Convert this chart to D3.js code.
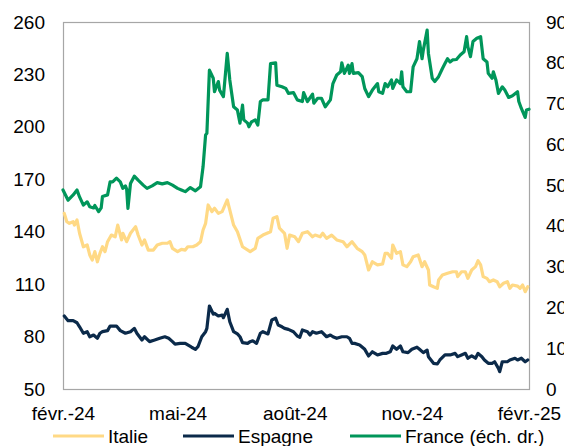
<!DOCTYPE html>
<html lang="fr">
<head>
<meta charset="utf-8">
<script src="https://cdn.jsdelivr.net/npm/d3@7"></script>
<style>
  html, body { margin: 0; padding: 0; background: #ffffff; }
  svg { display: block; font-family: "Liberation Sans", Arial, Helvetica, sans-serif; }
</style>
</head>
<body>
<svg id="chart" width="564" height="446"></svg>
<script>
// Period covered: 1 Feb 2024 to 1 Feb 2025; series points are [days since 1 Feb 2024, value]
const periodStart = "2024-02-01";
const periodEnd = "2025-02-01";

const xTickDates = ["2024-02-01", "2024-05-01", "2024-08-01", "2024-11-01", "2025-02-01"];
const xTickLabels = ["févr.-24", "mai-24", "août-24", "nov.-24", "févr.-25"];
const leftTicks = [50, 80, 110, 140, 170, 200, 230, 260];
const rightTicks = [0, 10, 20, 30, 40, 50, 60, 70, 80, 90];

const seriesNames = ["Italie", "Espagne", "France (éch. dr.)"];

// Italy, left axis
const italie = [
  [1,150.5],[3,145.7],[5,144.8],[8,145.7],[9,143.8],[11,146.7],[13,139.1],[16,131.4],[19,132.4],[21,126.7],
  [23,123.8],[25,128.6],[27,122.8],[29,127.6],[31,131.4],[33,128.6],[35,134.3],[38,138.1],[41,137.1],[43,143.8],
  [46,135.3],[47,139.1],[50,134.3],[53,139.1],[57,142.9],[59,138.1],[62,132.4],[64,135.3],[67,129.5],[71,129.5],
  [74,132.4],[78,133.4],[82,133.4],[84,134.3],[86,130.5],[90,128.6],[93,129.9],[96,129.5],[98,131.4],[102,131.4],
  [105,132.4],[108,134.3],[110,141.0],[112,144.8],[114,155.3],[117,151.5],[119,153.4],[122,150.5],[125,151.5],[129,158.2],
  [134,143.8],[137,140.0],[141,131.4],[147,128.6],[151,130.5],[153,136.2],[157,138.1],[163,140.0],[165,147.7],[168,148.6],
  [170,142.0],[174,139.1],[176,130.5],[178,138.1],[182,137.1],[185,134.3],[188,139.1],[192,140.0],[196,137.1],[198,138.1],
  [202,137.1],[204,139.1],[207,136.2],[211,138.1],[215,135.3],[220,134.3],[223,131.4],[227,134.3],[231,130.5],[235,128.6],
  [237,126.7],[240,118.1],[243,122.8],[247,121.0],[251,121.5],[253,127.6],[255,127.6],[258,124.8],[259,132.4],[262,127.6],
  [265,128.6],[267,121.0],[270,120.0],[273,122.8],[275,125.7],[279,126.7],[282,120.0],[284,122.8],[287,118.1],[288,109.5],
  [291,108.5],[294,107.6],[295,112.4],[298,115.2],[302,116.2],[306,117.1],[309,117.1],[310,114.3],[313,117.1],[316,117.1],
  [318,113.3],[321,118.1],[324,120.0],[326,123.4],[328,121.0],[330,114.3],[333,113.3],[335,111.4],[338,112.4],[341,111.4],
  [343,108.5],[346,110.5],[349,111.4],[351,107.6],[353,109.5],[357,108.9],[359,107.6],[361,109.5],[363,105.7],[365,108.5]
];

// Spain, left axis
const espagne = [
  [1,91.8],[4,89.1],[8,89.1],[11,87.9],[13,85.6],[16,81.9],[19,82.8],[21,79.9],[24,80.9],[27,79.0],
  [29,81.9],[31,82.8],[35,83.4],[37,86.0],[39,86.0],[42,86.0],[45,83.4],[49,81.9],[53,82.8],[56,84.7],
  [58,81.9],[62,78.0],[64,79.9],[68,77.1],[72,78.0],[76,79.0],[80,79.9],[83,79.0],[86,77.1],[88,75.7],
  [92,76.1],[96,76.1],[98,75.2],[101,73.9],[104,72.7],[106,74.2],[109,79.9],[112,82.8],[113,84.7],[115,97.5],
  [118,92.9],[119,93.3],[122,91.8],[125,92.3],[126,90.8],[129,95.6],[131,88.5],[134,82.8],[137,81.5],[139,79.9],
  [141,76.5],[145,76.1],[147,77.1],[149,77.6],[152,76.1],[155,81.9],[157,82.8],[161,81.5],[164,89.5],[167,90.5],
  [169,86.6],[172,85.6],[174,84.7],[177,84.1],[181,82.8],[184,80.3],[186,79.6],[188,83.8],[192,82.8],[194,80.9],
  [196,82.8],[199,81.9],[203,82.8],[207,79.9],[210,80.9],[212,79.9],[215,79.0],[219,79.9],[223,79.9],[225,79.0],
  [227,76.1],[229,76.1],[233,75.2],[237,72.7],[240,68.9],[243,71.3],[247,69.5],[251,70.4],[254,70.4],[257,71.3],
  [259,74.6],[262,72.7],[265,74.6],[267,71.3],[271,70.8],[274,72.7],[278,73.9],[280,72.7],[283,70.8],[286,72.2],
  [287,68.5],[291,64.7],[294,64.3],[296,66.6],[300,69.5],[304,69.5],[308,70.4],[310,68.5],[313,69.5],[316,70.4],
  [318,67.6],[321,68.9],[324,67.6],[326,70.4],[329,68.5],[331,66.6],[334,64.7],[337,64.7],[339,65.6],[342,61.8],
  [343,59.9],[345,65.6],[349,65.6],[351,66.6],[355,67.6],[357,66.6],[360,67.6],[363,65.6],[365,66.6]
];

// France, right axis
const france = [
  [0,48.8],[4,46.3],[8,47.6],[11,48.8],[13,47.1],[16,45.1],[19,45.9],[21,44.7],[24,44.4],[25,45.0],
  [28,43.5],[30,44.4],[31,47.2],[35,47.6],[37,50.8],[39,50.8],[42,51.7],[45,50.8],[47,49.2],[49,49.8],
  [50,49.0],[51,44.3],[53,50.4],[56,52.2],[59,51.2],[63,50.0],[66,49.2],[70,49.8],[74,50.6],[78,50.3],
  [82,50.6],[86,50.0],[90,49.2],[93,48.8],[96,48.4],[100,49.4],[104,48.6],[108,49.6],[110,54.5],[112,62.3],
  [113,62.7],[115,78.2],[118,76.2],[119,72.9],[122,75.4],[123,73.3],[126,71.7],[129,82.3],[131,75.8],[134,69.2],
  [137,68.4],[139,65.2],[141,69.6],[142,66.0],[145,65.2],[146,64.3],[148,65.5],[151,66.0],[153,64.7],[155,70.5],
  [157,70.9],[161,70.9],[163,79.8],[167,80.0],[168,74.5],[172,74.1],[175,73.7],[177,72.5],[181,72.7],[184,70.9],
  [188,70.5],[189,72.7],[192,70.5],[196,72.3],[197,70.1],[200,71.3],[203,71.3],[206,69.2],[210,70.9],[212,74.9],
  [215,77.0],[218,77.8],[219,80.0],[221,77.4],[224,79.4],[225,77.4],[227,79.8],[228,77.4],[232,77.6],[235,76.6],
  [237,73.7],[240,71.7],[243,73.3],[247,74.9],[248,72.9],[251,72.5],[253,74.9],[255,74.1],[258,75.8],[259,73.7],
  [262,75.8],[265,74.9],[266,77.8],[267,74.1],[270,72.9],[273,72.9],[275,79.0],[278,81.0],[280,85.2],[282,81.0],
  [283,83.1],[286,88.0],[287,82.3],[290,76.2],[292,75.4],[295,76.6],[298,78.6],[300,79.8],[302,81.0],[304,80.2],
  [306,80.7],[309,80.8],[312,81.9],[315,82.7],[317,86.4],[318,83.9],[320,81.5],[322,85.2],[325,86.0],[328,86.4],
  [330,81.0],[333,80.2],[334,77.4],[337,76.2],[338,77.8],[340,75.8],[342,72.5],[345,74.1],[347,73.3],[350,71.5],
  [353,71.9],[357,72.9],[358,70.5],[360,68.8],[363,66.6],[364,68.4],[366,68.6]
];

const colors = { italie: "#ffd985", espagne: "#0b2a4a", france: "#00965a" };

const width = 564, height = 446;
const margin = { top: 22, right: 35, bottom: 57, left: 63 };
const innerW = width - margin.left - margin.right;
const innerH = height - margin.top - margin.bottom;
const fontSize = 19;

const parse = d3.timeParse("%Y-%m-%d");
const t0 = parse(periodStart);
const dayToDate = d => d3.timeDay.offset(t0, d);

const x = d3.scaleTime()
  .domain([t0, parse(periodEnd)])
  .range([margin.left, margin.left + innerW]);
const yLeft = d3.scaleLinear()
  .domain([d3.min(leftTicks), d3.max(leftTicks)])
  .range([margin.top + innerH, margin.top]);
const yRight = d3.scaleLinear()
  .domain([d3.min(rightTicks), d3.max(rightTicks)])
  .range([margin.top + innerH, margin.top]);

const svg = d3.select("#chart");

// Plot frame
svg.append("rect")
  .attr("x", margin.left + 0.5)
  .attr("y", margin.top + 0.5)
  .attr("width", innerW)
  .attr("height", innerH)
  .attr("fill", "none")
  .attr("stroke", "#a6a6a6")
  .attr("stroke-width", 1.2);

// Axes
const styleAxis = g => {
  g.select(".domain").remove();
  g.selectAll("line").remove();
  g.selectAll("text")
    .attr("font-size", fontSize)
    .attr("font-family", "'Liberation Sans', Arial, sans-serif")
    .attr("fill", "#000");
};

svg.append("g")
  .attr("transform", `translate(${margin.left},0)`)
  .call(d3.axisLeft(yLeft).tickValues(leftTicks).tickSize(0).tickPadding(18))
  .call(styleAxis);

svg.append("g")
  .attr("transform", `translate(${margin.left + innerW},0)`)
  .call(d3.axisRight(yRight).tickValues(rightTicks).tickSize(0).tickPadding(17))
  .call(styleAxis);

const tickDates = xTickDates.map(parse);
svg.append("g")
  .attr("transform", `translate(0,${margin.top + innerH})`)
  .call(d3.axisBottom(x)
    .tickValues(tickDates)
    .tickSize(0)
    .tickPadding(17.5)
    .tickFormat((d, i) => xTickLabels[i]))
  .call(styleAxis);

// Series lines
const lineLeft = d3.line()
  .x(d => x(dayToDate(d[0])))
  .y(d => yLeft(d[1]))
  .curve(d3.curveLinear);
const lineRight = d3.line()
  .x(d => x(dayToDate(d[0])))
  .y(d => yRight(d[1]))
  .curve(d3.curveLinear);

const drawLine = (data, gen, color) =>
  svg.append("path")
    .datum(data)
    .attr("fill", "none")
    .attr("stroke", color)
    .attr("stroke-width", 3.2)
    .attr("stroke-linejoin", "round")
    .attr("stroke-linecap", "round")
    .attr("d", gen);

drawLine(italie, lineLeft, colors.italie);
drawLine(espagne, lineLeft, colors.espagne);
drawLine(france, lineRight, colors.france);

// Legend
const legendItems = [
  { label: seriesNames[0], color: colors.italie, x: 53 },
  { label: seriesNames[1], color: colors.espagne, x: 183 },
  { label: seriesNames[2], color: colors.france, x: 350 }
];
const legend = svg.append("g").attr("class", "legend");
const item = legend.selectAll("g")
  .data(legendItems)
  .join("g")
  .attr("transform", d => `translate(${d.x},436)`);
item.append("line")
  .attr("x1", 0).attr("x2", 51)
  .attr("y1", 0).attr("y2", 0)
  .attr("stroke", d => d.color)
  .attr("stroke-width", 3.2);
item.append("text")
  .attr("x", 55)
  .attr("y", 6.5)
  .attr("font-size", fontSize)
  .attr("fill", "#000")
  .text(d => d.label);
</script>
</body>
</html>
